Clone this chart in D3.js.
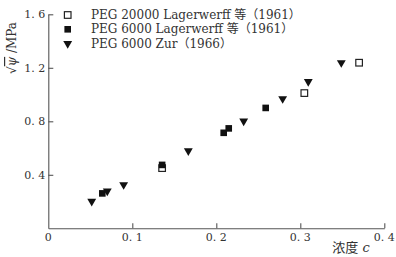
<!DOCTYPE html>
<html>
<head>
<meta charset="utf-8">
<script src="https://cdn.jsdelivr.net/npm/d3@7"></script>
<style>
  html, body { margin: 0; padding: 0; background: #fff; }
  svg { display: block; font-family: "DejaVu Serif", "Liberation Serif", "Noto Sans CJK SC", serif; }
</style>
</head>
<body>
<div id="chart"></div>
<script>
// Series: concentration c vs sqrt(psi) in MPa.
const seriesNames = ['PEG 20000 Lagerwerff 等（1961）', 'PEG 6000 Lagerwerff 等（1961）', 'PEG 6000 Zur（1966）'];
const peg20000 = [[0.1355, 0.450], [0.3048, 1.011], [0.370, 1.238]];
const peg6000L = [[0.0643, 0.261], [0.1355, 0.474], [0.2088, 0.714], [0.2148, 0.747], [0.2588, 0.900]];
const peg6000Z = [[0.0517, 0.202], [0.0702, 0.278], [0.0897, 0.326], [0.1667, 0.579], [0.2326, 0.802],
                  [0.2790, 0.969], [0.3095, 1.097], [0.3488, 1.238]];
const xTicks = [0.1, 0.2, 0.3, 0.4];
const yTicks = [0.4, 0.8, 1.2, 1.6];

(function(){
  const width = 396, height = 257;
  const margin = {left: 48.3, right: 11.7, top: 14.3, bottom: 28.7};
  const ink = '#333';

  const svg = d3.select('#chart').append('svg')
    .attr('width', width).attr('height', height);

  const x = d3.scaleLinear().domain([0, 0.4]).range([margin.left, width - margin.right]);
  const y = d3.scaleLinear().domain([0, 1.6]).range([height - margin.bottom, margin.top]);

  // Axes with inward ticks, no tick at the origin.
  const fmt = d => d3.format('.1f')(d).replace('.', '. ');
  const xAxis = svg.append('g').attr('transform', `translate(0,${y(0)})`)
    .call(d3.axisTop(x).tickValues(xTicks).tickSize(5).tickSizeOuter(0).tickFormat(''));
  const yAxis = svg.append('g').attr('transform', `translate(${x(0)},0)`)
    .call(d3.axisRight(y).tickValues(yTicks).tickSize(5).tickSizeOuter(0).tickFormat(''));
  [xAxis, yAxis].forEach(g => {
    g.select('.domain').attr('stroke', '#555').attr('stroke-width', 1.1);
    g.selectAll('.tick line').attr('stroke', '#555').attr('stroke-width', 1.1);
  });

  // Tick labels drawn by hand so they can sit outside the inward ticks.
  svg.append('g').selectAll('text').data([0].concat(xTicks)).join('text')
    .attr('x', d => x(d)).attr('y', y(0) + 13)
    .attr('text-anchor', 'middle').attr('fill', ink)
    .style('font-size', '11px')
    .text(d => d === 0 ? '0' : fmt(d));
  svg.append('g').selectAll('text').data(yTicks).join('text')
    .attr('x', x(0) - 3).attr('y', d => y(d) + 4)
    .attr('text-anchor', 'end').attr('fill', ink)
    .style('font-size', '11px')
    .text(fmt);

  // Axis titles.
  const xt = svg.append('text').attr('x', 351).attr('y', 252)
    .attr('text-anchor', 'middle').attr('fill', ink).style('font-size', '13px');
  xt.append('tspan').text('浓度 ');
  xt.append('tspan').style('font-style', 'italic').text('c');

  const yt = svg.append('text').attr('transform', 'translate(16,48) rotate(-90)')
    .attr('text-anchor', 'middle').attr('fill', ink).style('font-size', '12px');
  yt.append('tspan').text('√');
  yt.append('tspan').style('font-style', 'italic').style('text-decoration', 'overline').text('ψ');
  yt.append('tspan').text(' /MPa');

  // Marker helpers.
  const tri = d3.symbol().type(d3.symbolTriangle).size(34);
  function drawOpen(g, cx, cy){
    g.append('rect').attr('x', cx - 3.3).attr('y', cy - 3.3).attr('width', 6.6).attr('height', 6.6)
      .attr('fill', '#fff').attr('stroke', '#222').attr('stroke-width', 1.2);
  }
  function drawFilled(g, cx, cy){
    g.append('rect').attr('x', cx - 3.3).attr('y', cy - 3.3).attr('width', 6.6).attr('height', 6.6)
      .attr('fill', '#111');
  }
  function drawTri(g, cx, cy){
    g.append('path').attr('d', tri).attr('transform', `translate(${cx},${cy}) rotate(180)`)
      .attr('fill', '#111');
  }
  const drawers = [drawOpen, drawFilled, drawTri];

  const marks = svg.append('g');
  peg20000.forEach(d => drawOpen(marks, x(d[0]), y(d[1])));
  peg6000L.forEach(d => drawFilled(marks, x(d[0]), y(d[1])));
  peg6000Z.forEach(d => drawTri(marks, x(d[0]), y(d[1])));

  // Legend in the upper left of the plot.
  const legend = svg.append('g');
  seriesNames.forEach((name, i) => {
    const ly = 15 + i * 14.3;
    drawers[i](legend, 67.7, ly);
    legend.append('text').attr('x', 91).attr('y', ly + 4)
      .attr('fill', ink).style('font-size', '12px')
      .text(name);
  });
})();
</script>
</body>
</html>
